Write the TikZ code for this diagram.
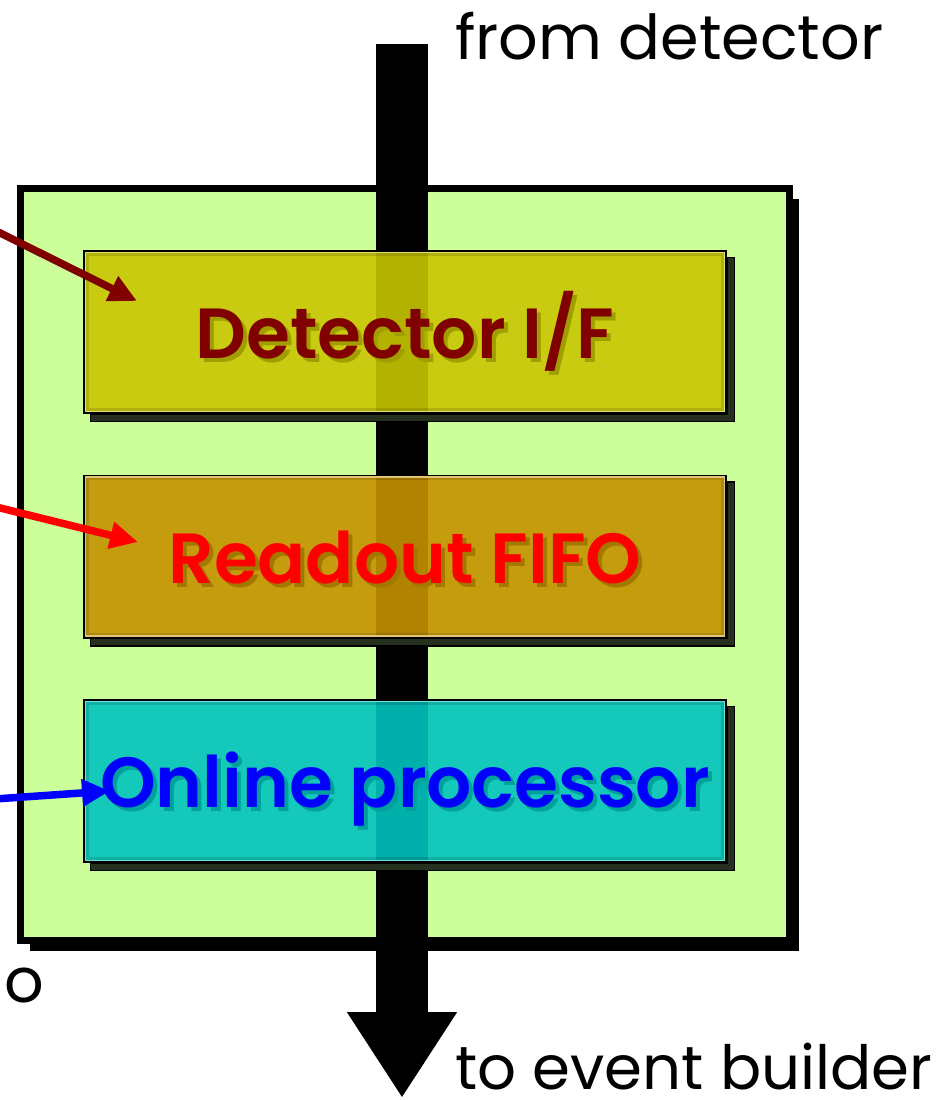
\documentclass[tikz,border=0pt]{standalone}
\usepackage{fontspec}
\setmainfont{Poppins}
\IfFontExistsTF{Poppins SemiBold}
  {\newfontfamily\unitfont{Poppins SemiBold}}
  {\newfontfamily\unitfont{Poppins}[UprightFont=*-Bold]}
\usetikzlibrary{arrows.meta,shadows}

\definecolor{panelgreen}{RGB}{204,255,153}
\definecolor{ifyellow}{RGB}{200,198,0}
\definecolor{fifogold}{RGB}{198,146,0}
\definecolor{proccyan}{RGB}{0,196,190}
\definecolor{ifred}{RGB}{128,0,0}
\definecolor{shadowfill}{RGB}{38,48,30}

% text with a cast shadow: #1 text colour, #2 shadow colour, #3 text
\newcommand{\castshadow}[3]{\leavevmode\rlap{\hspace{4pt}\raisebox{-4pt}{\color{#2}#3}}{\color{#1}#3}}

% L-shaped drop shadow on the lower right of a unit box
\newcommand{\unitshadow}[1]{%
  \filldraw[unitshade]
    ([yshift=-7.5pt]#1.north east) -- ([xshift=7.5pt,yshift=-7.5pt]#1.north east)
    -- ([xshift=7.5pt,yshift=-7.5pt]#1.south east) -- ([xshift=7.5pt,yshift=-7.5pt]#1.south west)
    -- ([xshift=7.5pt]#1.south west) -- (#1.south east) -- cycle;}

% bevel lines just inside a unit box border
\newcommand{\unitbevel}[2]{%
  \draw[line width=1.4pt,#2] ([xshift=2.6pt,yshift=-2.6pt]#1.north west) rectangle ([xshift=-2.6pt,yshift=2.6pt]#1.south east);
  \draw[line width=2.4pt,black,opacity=0.12] ([xshift=4.6pt,yshift=-4.6pt]#1.north west) rectangle ([xshift=-4.6pt,yshift=4.6pt]#1.south east);}

\tikzset{
  panel/.style={draw=black, line width=7pt, fill=panelgreen, minimum width=769pt, minimum height=752pt,
    inner sep=0pt, drop shadow={shadow xshift=9.5pt, shadow yshift=-10.5pt, fill=black, opacity=1}},
  unit/.style={draw=black, line width=3pt, minimum width=641pt, minimum height=161pt, inner sep=0pt,
    fill opacity=0.9, text opacity=1, text height=53pt, text depth=0pt,
    font=\fontsize{71}{80}\selectfont\unitfont},
  unitshade/.style={fill=shadowfill, draw=black, line width=1.5pt, line join=miter},
  flow/.style={line width=52pt, -{Triangle[width=104pt,length=86pt]}},
  feed/.style={line width=7.5pt, -{Triangle[width=26pt,length=28pt]}},
  caption/.style={font=\fontsize{62}{72}\selectfont, inner sep=0pt}
}

\begin{document}
\begin{tikzpicture}[x=1pt, y=-1pt]
  \useasboundingbox (0,0) rectangle (945,1100);
  \clip (0,0) rectangle (945,1100);

  % crate panel
  \node[panel] (crate) at (405,564.5) {};

  % data flow through the crate
  \coordinate (datain) at (402,44);
  \coordinate (dataout) at (402,1098);
  \draw[flow] (datain) -- (dataout);

  % functional units
  \node[unit, fill=ifyellow] (dif) at (405,332)
    {\castshadow{ifred}{ifyellow!80!black}{Detector I/F}};
  \unitshadow{dif}
  \unitbevel{dif}{ifyellow!55!white}

  \node[unit, fill=fifogold] (fifo) at (405,556.5)
    {\castshadow{red}{fifogold!82!black}{Readout FIFO}};
  \unitshadow{fifo}
  \unitbevel{fifo}{fifogold!55!white}

  \node[unit, fill=proccyan] (proc) at (405,781)
    {\castshadow{blue}{proccyan!82!black}{Online processor}};
  \unitshadow{proc}
  \unitbevel{proc}{proccyan!55!white}

  % captions
  \node[caption, anchor=base west] (fromdet) at (455,59) {from detector};
  \node[caption, anchor=base west, font=\fontsize{61}{72}\selectfont] (toeb) at (455,1089) {to event builder};
  \node[caption, anchor=base east] (sidelabel) at (44,1002) {o};

  % control lines entering from the left
  \coordinate (difsrc) at (-20,223);
  \coordinate (diftip) at (137,301);
  \draw[feed, ifred] (difsrc) -- (diftip);

  \coordinate (fifosrc) at (-20,503);
  \coordinate (fifotip) at (138,542);
  \draw[feed, red] (fifosrc) -- (fifotip);

  \coordinate (procsrc) at (-20,800);
  \coordinate (proctip) at (110,791);
  \draw[feed, blue] (procsrc) -- (proctip);
\end{tikzpicture}
\end{document}
